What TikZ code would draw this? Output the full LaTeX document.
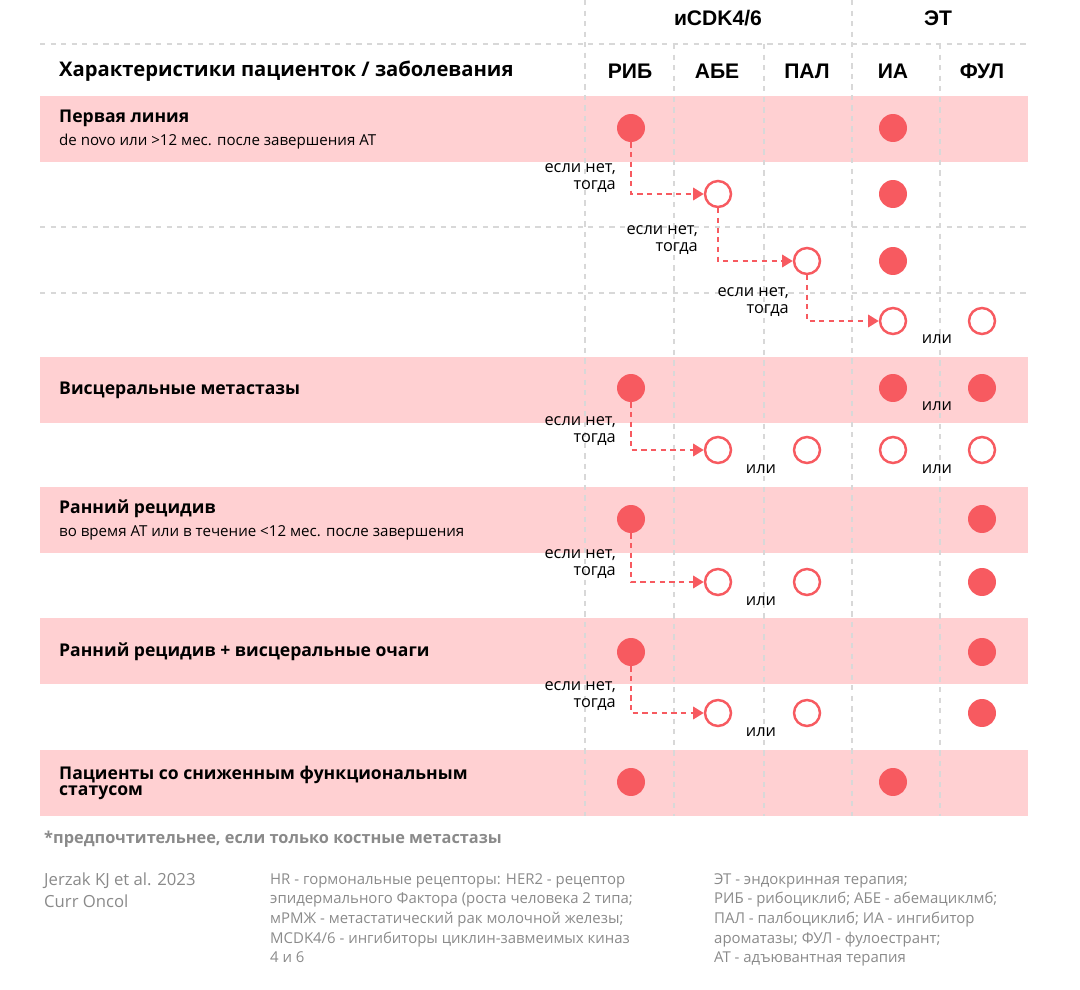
\documentclass[tikz,border=0pt]{standalone}
\usepackage{fontspec}
\setmainfont{Open Sans}
\newfontfamily\hdr{Liberation Sans}
\usetikzlibrary{arrows.meta}
\definecolor{pinkbg}{HTML}{FFD0D2}
\definecolor{redc}{HTML}{F75A60}
\definecolor{gridc}{HTML}{D8D8D8}
\definecolor{greyt}{HTML}{8A8A8A}
\begin{document}
\begin{tikzpicture}[x=0.02cm,y=-0.02cm,
  full/.style={circle,fill=redc,minimum size=0.56cm,inner sep=0},
  open/.style={circle,draw=redc,line width=1.4pt,fill=white,minimum size=0.52cm,inner sep=0},
  grid/.style={gridc,dashed,line width=0.6pt},
  flow/.style={redc,line width=1.3pt,dash pattern=on 3pt off 2.5pt,-{Triangle[length=6pt,width=7pt]}},
  hd/.style={font=\hdr\bfseries\fontsize{12}{14}\selectfont},
  rt/.style={anchor=west,font=\bfseries\fontsize{10}{11}\selectfont,align=left},
  sub/.style={anchor=west,font=\fontsize{8.6}{10}\selectfont},
  ift/.style={anchor=east,align=right,font=\fontsize{9.3}{9.8}\selectfont},
  ili/.style={font=\fontsize{9.3}{10}\selectfont},
  ft/.style={anchor=north west,align=left,text=greyt,font=\fontsize{8.5}{11.2}\selectfont}]
\useasboundingbox (0,0) rectangle (1080,990);
% pink rows
\foreach \a/\b in {96/162,357/423,487/553,618/684,750/816}
  \fill[pinkbg] (40,\a) rectangle (1028,\b);
% grid
\draw[grid] (585,0) -- (585,816);
\draw[grid] (852,0) -- (852,816);
\foreach \x in {674,764,940} \draw[grid] (\x,44) -- (\x,816);
\foreach \y in {44,227,293} \draw[grid] (40,\y) -- (1028,\y);
% headers
\node[hd] (hc) at (718,18) {иCDK4/6};
\node[hd] (he) at (938,18) {ЭТ};
\node[anchor=west,font=\bfseries\fontsize{11.5}{13}\selectfont] (hx) at (53,71) {Характеристики пациенток / заболевания};
\node[hd] (c1) at (630,71) {РИБ};
\node[hd] (c2) at (717,71) {АБЕ};
\node[hd] (c3) at (807,71) {ПАЛ};
\node[hd] (c4) at (893,71) {ИА};
\node[hd] (c5) at (982,71) {ФУЛ};
% row titles
\node[rt] (t1) at (53,118) {Первая линия};
\node[sub] (s1) at (53,142) {de novo или >12 мес. после завершения АТ};
\node[rt] (t2) at (53,390) {Висцеральные метастазы};
\node[rt] (t3) at (53,509) {Ранний рецидив};
\node[sub] (s3) at (53,533) {во время АТ или в течение <12 мес. после завершения};
\node[rt] (t4) at (53,652) {Ранний рецидив + висцеральные очаги};
\node[rt] (t5) at (53,783) {Пациенты со сниженным функциональным\\[-2pt]статусом};
% circles
\node[full] (a1) at (631,128) {}; \node[full] (a5) at (893,128) {};
\node[open] (b2) at (718,194) {}; \node[full] (b5) at (893,194) {};
\node[open] (c3c) at (807,261) {}; \node[full] (c5c) at (893,261) {};
\node[open] (d4) at (893,321) {}; \node[open] (d5) at (982,321) {};
\node[full] (e1) at (631,388) {}; \node[full] (e4) at (893,388) {}; \node[full] (e5) at (982,388) {};
\node[open] (f2) at (718,450) {}; \node[open] (f3) at (807,450) {}; \node[open] (f4) at (893,450) {}; \node[open] (f5) at (982,450) {};
\node[full] (g1) at (631,519) {}; \node[full] (g5) at (982,519) {};
\node[open] (h2) at (718,582) {}; \node[open] (h3) at (807,582) {}; \node[full] (h5) at (982,582) {};
\node[full] (i1) at (631,652) {}; \node[full] (i5) at (982,652) {};
\node[open] (j2) at (718,713) {}; \node[open] (j3) at (807,713) {}; \node[full] (j5) at (982,713) {};
\node[full] (k1) at (631,782) {}; \node[full] (k4) at (893,782) {};
% flows
\draw[flow] (a1.south) |- (b2.west);
\draw[flow] (b2.south) |- (c3c.west);
\draw[flow] (c3c.south) |- (d4.west);
\draw[flow] (e1.south) |- (f2.west);
\draw[flow] (g1.south) |- (h2.west);
\draw[flow] (i1.south) |- (j2.west);
% labels
\node[ift] (l1) at (622,178) {если нет,\\тогда};
\node[ift] (l2) at (704,240) {если нет,\\тогда};
\node[ift] (l3) at (795,302) {если нет,\\тогда};
\node[ift] (l4) at (622,431) {если нет,\\тогда};
\node[ift] (l5) at (622,564) {если нет,\\тогда};
\node[ift] (l6) at (622,696) {если нет,\\тогда};
\node[ili] (o1) at (937,339) {или};
\node[ili] (o2) at (937,406) {или};
\node[ili] (o3) at (761,469) {или};
\node[ili] (o4) at (937,469) {или};
\node[ili] (o5) at (761,601) {или};
\node[ili] (o6) at (761,732) {или};
% footer
\node[anchor=west,text=greyt,font=\bfseries\fontsize{9.3}{11}\selectfont] (fn) at (38,839) {*предпочтительнее, если только костные метастазы};
\node[ft,font=\fontsize{9.5}{12.4}\selectfont] (src) at (38,867) {Jerzak KJ et al. 2023\\Curr Oncol};
\node[ft] (m1) at (264,867) {HR - гормональные рецепторы: HER2 - рецептор\\эпидермального Фактора (роста человека 2 типа;\\мРМЖ - метастатический рак молочной железы;\\МCDK4/6 - ингибиторы циклин-завмеимых киназ\\4 и 6};
\node[ft] (m2) at (708,867) {ЭТ - эндокринная терапия;\\РИБ - рибоциклиб; АБЕ - абемациклмб;\\ПАЛ - палбоциклиб; ИА - ингибитор\\ароматазы; ФУЛ - фулоестрант;\\АТ - адъювантная терапия};
\end{tikzpicture}
\end{document}
